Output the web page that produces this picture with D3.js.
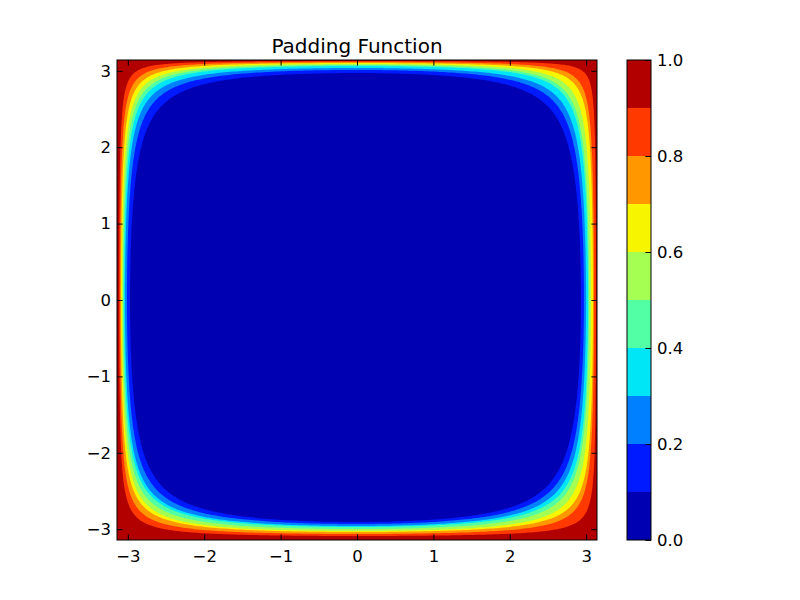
<!DOCTYPE html>
<html>
<head>
<meta charset="utf-8">
<script src="https://cdn.jsdelivr.net/npm/d3@7"></script>
<style>
  body { margin: 0; background: #fff; }
  text { font-family: "DejaVu Sans", sans-serif; }
</style>
</head>
<body>
<div id="chart"></div>
<script>
// contour levels of the filled plot
var levels = [0.0, 0.1, 0.2, 0.3, 0.4, 0.5, 0.6, 0.7, 0.8, 0.9, 1.0];
// where each inner level (0.1 .. 0.9) crosses the axes
var leftCross   = [-2.971, -3.011, -3.037, -3.050, -3.063, -3.076, -3.089, -3.102, -3.115];
var rightCross  = [ 2.932,  2.971,  2.998,  3.024,  3.037,  3.063,  3.089,  3.102,  3.128];
var topCross    = [ 2.971,  3.011,  3.037,  3.063,  3.076,  3.089,  3.102,  3.115,  3.128];
var bottomCross = [-2.906, -2.932, -2.958, -2.971, -2.998, -3.024, -3.037, -3.063, -3.089];
// tick labels
var xTicks = [-3, -2, -1, 0, 1, 2, 3];
var yTicks = [-3, -2, -1, 0, 1, 2, 3];
var cbTicks = [0.0, 0.2, 0.4, 0.6, 0.8, 1.0];
var title = "Padding Function";

// jet colours for the 10 bands
var bandColors = ["#0000b2", "#001aff", "#0080ff", "#00e6f7", "#52ffa5",
                  "#a5ff52", "#f7f500", "#ff9700", "#ff3900", "#b20000"];

var PI = Math.PI;
var plot = {left: 117, top: 60, size: 480};
var tickLen = 5.6;
var fontSize = 16.5;

var svg = d3.select("#chart").append("svg")
    .attr("width", 800)
    .attr("height", 600);

var x = d3.scaleLinear().domain([-PI, PI]).range([plot.left, plot.left + plot.size]);
var y = d3.scaleLinear().domain([-PI, PI]).range([plot.top + plot.size, plot.top]);

svg.append("clipPath").attr("id", "plotClip")
  .append("rect")
    .attr("x", plot.left).attr("y", plot.top)
    .attr("width", plot.size).attr("height", plot.size);

// one quarter of a level curve, from the y=0 crossing to the x=0 crossing
function quarter(xc, yc) {
    var sx = xc < 0 ? -1 : 1, sy = yc < 0 ? -1 : 1;
    var u0 = PI - Math.abs(xc), v0 = PI - Math.abs(yc);
    var a = -1 / Math.log(Math.sin(u0 / 2));
    var b = -1 / Math.log(Math.sin(v0 / 2));
    var pts = [];
    for (var i = 0; i <= 160; i++) {
        var t = (1 - Math.cos(PI * i / 160)) / 2;
        var u = 2 * Math.asin(Math.exp(-(1 - t) / a));
        var v = 2 * Math.asin(Math.exp(-t / b));
        pts.push([sx * (PI - u), sy * (PI - v)]);
    }
    return pts;
}

function levelCurve(k) {
    var tr = quarter(rightCross[k], topCross[k]);
    var tl = quarter(leftCross[k], topCross[k]).reverse();
    var bl = quarter(leftCross[k], bottomCross[k]);
    var br = quarter(rightCross[k], bottomCross[k]).reverse();
    return tr.concat(tl, bl, br);
}

var line = d3.line()
    .x(function(d) { return x(d[0]); })
    .y(function(d) { return y(d[1]); });

var field = svg.append("g").attr("clip-path", "url(#plotClip)");

// top band fills the whole area, then each lower band inside its level curve
field.append("rect")
    .attr("x", x(-PI)).attr("y", y(PI))
    .attr("width", x(PI) - x(-PI)).attr("height", y(-PI) - y(PI))
    .attr("fill", bandColors[bandColors.length - 1]);

for (var k = leftCross.length - 1; k >= 0; k--) {
    field.append("path")
        .datum(levelCurve(k))
        .attr("d", function(d) { return line(d) + "Z"; })
        .attr("fill", bandColors[k]);
}

// frame
svg.append("rect")
    .attr("x", plot.left).attr("y", plot.top)
    .attr("width", plot.size).attr("height", plot.size)
    .attr("fill", "none").attr("stroke", "black").attr("stroke-width", 1);

function styleAxis(g) {
    g.select(".domain").remove();
    g.selectAll("line").attr("stroke", "black").attr("stroke-width", 1);
    g.selectAll("text").attr("fill", "black").style("font-size", fontSize + "px");
}

var intFmt = d3.format("d");

svg.append("g")
    .attr("transform", "translate(0," + y(-PI) + ")")
    .call(d3.axisBottom(x).tickValues(xTicks).tickSizeInner(-tickLen).tickSizeOuter(0)
        .tickPadding(10).tickFormat(intFmt))
    .call(styleAxis);
svg.append("g")
    .attr("transform", "translate(0," + y(PI) + ")")
    .call(d3.axisTop(x).tickValues(xTicks).tickSizeInner(-tickLen).tickSizeOuter(0).tickFormat(""))
    .call(styleAxis);
svg.append("g")
    .attr("transform", "translate(" + x(-PI) + ",0)")
    .call(d3.axisLeft(y).tickValues(yTicks).tickSizeInner(-tickLen).tickSizeOuter(0)
        .tickPadding(6).tickFormat(intFmt))
    .call(styleAxis);
svg.append("g")
    .attr("transform", "translate(" + x(PI) + ",0)")
    .call(d3.axisRight(y).tickValues(yTicks).tickSizeInner(-tickLen).tickSizeOuter(0).tickFormat(""))
    .call(styleAxis);

// title
svg.append("text")
    .attr("x", (x(-PI) + x(PI)) / 2)
    .attr("y", 53)
    .attr("text-anchor", "middle")
    .style("font-size", "20px")
    .text(title);

// colorbar
var cb = {left: 627, width: 24};
var cbY = d3.scaleLinear().domain([levels[0], levels[levels.length - 1]]).range([plot.top + plot.size, plot.top]);

svg.append("g").selectAll("rect")
    .data(d3.range(levels.length - 1))
    .join("rect")
    .attr("x", cb.left)
    .attr("y", function(i) { return cbY(levels[i + 1]); })
    .attr("width", cb.width)
    .attr("height", function(i) { return cbY(levels[i]) - cbY(levels[i + 1]); })
    .attr("fill", function(i) { return bandColors[i]; });

svg.append("rect")
    .attr("x", cb.left).attr("y", cbY(1))
    .attr("width", cb.width).attr("height", cbY(0) - cbY(1))
    .attr("fill", "none").attr("stroke", "black").attr("stroke-width", 1);

svg.append("g")
    .attr("transform", "translate(" + (cb.left + cb.width) + ",0)")
    .call(d3.axisRight(cbY).tickValues(cbTicks).tickSizeInner(-tickLen).tickSizeOuter(0)
        .tickPadding(6).tickFormat(d3.format(".1f")))
    .call(styleAxis);
</script>
</body>
</html>
